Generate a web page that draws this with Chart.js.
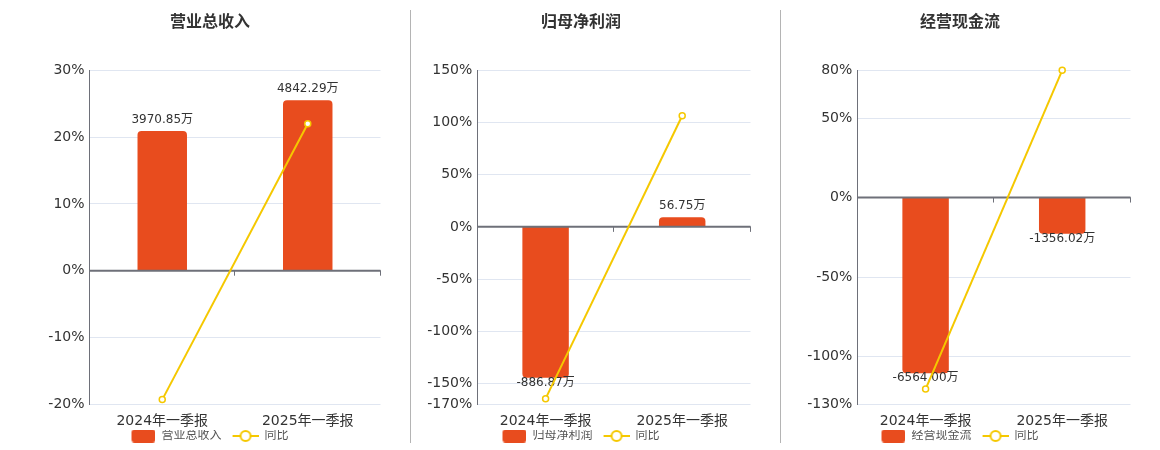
<!DOCTYPE html>
<html>
<head>
<meta charset="utf-8">
<script src="https://cdn.jsdelivr.net/npm/chart.js@4.4.1/dist/chart.umd.min.js"></script>
<style>
    body { margin: 0; background: #fff; width: 1160px; height: 450px; overflow: hidden; position: relative; }
    canvas { position: absolute; top: 0; }
    .sep { position: absolute; top: 10px; width: 1px; height: 433px; background: #b4b4b4; }
</style>
</head>
<body>
<div class="sep" style="left:410px"></div>
<div class="sep" style="left:780px"></div>
<canvas id="revenueChart" width="352" height="452" style="left:34px;width:352px;height:452px"></canvas>
<canvas id="profitChart" width="350" height="452" style="left:406px;width:350px;height:452px"></canvas>
<canvas id="cashChart" width="352" height="452" style="left:784px;width:352px;height:452px"></canvas>

<script>
// Categories shared by all three panels
const categories = ['2024年一季报', '2025年一季报'];

// 营业总收入 (万) and YoY %
const revenueValues = [3970.85, 4842.29];
const revenueYoY = [-19.3, 22.0];
const revenueTicks = [30, 20, 10, 0, -10, -20];

// 归母净利润 (万) and YoY %
const profitValues = [-886.87, 56.75];
const profitYoY = [-164.6, 106.5];
const profitTicks = [150, 100, 50, 0, -50, -100, -150, -170];

// 经营现金流 (万) and YoY %
const cashValues = [-6564.00, -1356.02];
const cashYoY = [-120.4, 80.0];
const cashTicks = [80, 50, 0, -50, -100, -130];

const BAR_COLOR = '#e84c1e';
const LINE_COLOR = '#f5c800';
const BAR_FILL = 0.85; // tallest bar fills this share of its side of the axis
const FONT = '"DejaVu Sans", "Noto Sans CJK SC", sans-serif';

Chart.defaults.font.family = FONT;

/**
 * Small canvases used as legend symbols (left part left blank as item gap)
 */
function makeBarIcon() {
    const c = document.createElement('canvas');
    c.width = 37; c.height = 13;
    const g = c.getContext('2d');
    g.fillStyle = BAR_COLOR;
    g.beginPath();
    g.roundRect(13, 0, 24, 13, 3);
    g.fill();
    return c;
}

function makeLineIcon() {
    const c = document.createElement('canvas');
    c.width = 37; c.height = 14;
    const g = c.getContext('2d');
    g.strokeStyle = LINE_COLOR;
    g.lineWidth = 2;
    g.beginPath();
    g.moveTo(11, 7); g.lineTo(37, 7);
    g.stroke();
    g.fillStyle = '#fff';
    g.beginPath();
    g.arc(24, 7, 5, 0, Math.PI * 2);
    g.fill();
    g.stroke();
    return c;
}

const barIcon = makeBarIcon();
const lineIcon = makeLineIcon();

// Zero axis line, its little ticks, and the bar value labels
const axisAndLabels = {
    id: 'axisAndLabels',
    afterLayout(chart) {
        // pull the legend back so the visible symbols sit centred
        chart.legend.left -= 6.5;
        chart.legend.right -= 6.5;
    },
    afterDatasetDraw(chart, args) {
        if (args.index !== 0) return;
        const { ctx, chartArea, scales } = chart;
        const zeroY = scales.y.getPixelForValue(0);
        ctx.save();
        ctx.strokeStyle = '#6e7079';
        ctx.lineWidth = 2;
        ctx.beginPath();
        ctx.moveTo(chartArea.left, zeroY);
        ctx.lineTo(chartArea.right, zeroY);
        ctx.stroke();

        ctx.lineWidth = 1;
        const mid = (scales.x.getPixelForValue(0) + scales.x.getPixelForValue(1)) / 2;
        [mid, chartArea.right].forEach(x => {
            const px = Math.round(x) - 0.5;
            ctx.beginPath();
            ctx.moveTo(px, zeroY);
            ctx.lineTo(px, zeroY + 5);
            ctx.stroke();
        });

        ctx.font = '12px ' + FONT;
        ctx.fillStyle = '#333';
        ctx.textAlign = 'center';
        ctx.textBaseline = 'middle';
        const values = chart.data.datasets[0].data;
        args.meta.data.forEach((bar, i) => {
            const v = values[i];
            const y = v >= 0 ? bar.y - 11 : bar.y + 5;
            ctx.fillText(v.toFixed(2) + '万', bar.x, y);
        });
        ctx.restore();
    }
};

/**
 * Builds one bar + YoY line panel
 */
function makePanel(canvasId, title, barLabel, values, yoy, ticks, yWidth) {
    const pctMax = ticks[0];
    const pctMin = ticks[ticks.length - 1];

    // Hidden bar axis whose zero lines up with 0% on the visible axis
    const biggest = values.reduce((a, b) => Math.abs(b) > Math.abs(a) ? b : a, 0);
    const side = biggest >= 0 ? pctMax : -pctMin;
    const k = Math.abs(biggest) / (BAR_FILL * side);

    const sortedTicks = [...ticks].sort((a, b) => a - b);

    return new Chart(document.getElementById(canvasId), {
        type: 'bar',
        data: {
            labels: categories,
            datasets: [
                {
                    label: barLabel,
                    data: values,
                    backgroundColor: BAR_COLOR,
                    borderRadius: 4,
                    borderSkipped: 'start',
                    barPercentage: 0.34,
                    categoryPercentage: 1,
                    yAxisID: 'yBar',
                    order: 1
                },
                {
                    label: '同比',
                    data: yoy,
                    type: 'line',
                    borderColor: LINE_COLOR,
                    borderWidth: 2,
                    pointRadius: 3,
                    pointBackgroundColor: '#fff',
                    pointBorderColor: LINE_COLOR,
                    pointBorderWidth: 1.5,
                    tension: 0,
                    clip: false,
                    yAxisID: 'y',
                    order: 0
                }
            ]
        },
        options: {
            responsive: false,
            animation: false,
            devicePixelRatio: 1,
            layout: { padding: 0 },
            plugins: {
                title: {
                    display: true,
                    text: title,
                    color: '#333',
                    font: { size: 16, weight: 'bold' },
                    padding: { top: 12.9, bottom: 38.2 }
                },
                legend: {
                    position: 'bottom',
                    labels: {
                        usePointStyle: true,
                        pointStyleWidth: 37,
                        boxHeight: 12,
                        padding: 0,
                        color: '#555',
                        font: { size: 12 },
                        generateLabels: chart =>
                            Chart.defaults.plugins.legend.labels.generateLabels(chart)
                                .sort((a, b) => a.datasetIndex - b.datasetIndex)
                                .map(item => ({
                                    ...item,
                                    pointStyle: item.datasetIndex === 0 ? barIcon : lineIcon
                                }))
                    }
                },
                tooltip: { enabled: false }
            },
            scales: {
                x: {
                    grid: { display: false, drawTicks: false },
                    border: { display: false },
                    ticks: { color: '#333', font: { size: 14 }, padding: 9 },
                    afterFit: s => { s.height = 25.7; }
                },
                y: {
                    position: 'left',
                    min: pctMin,
                    max: pctMax,
                    afterBuildTicks: s => { s.ticks = sortedTicks.map(v => ({ value: v })); },
                    afterFit: s => { s.width = yWidth; },
                    ticks: {
                        color: '#333',
                        font: { size: 14 },
                        padding: 5,
                        callback: v => v + '%'
                    },
                    grid: {
                        drawTicks: false,
                        color: c => (c.tick && c.tick.value === 0) ? '#6e7079' : '#e0e6f1'
                    },
                    border: { color: '#6e7079', width: 1 }
                },
                yBar: {
                    display: false,
                    min: pctMin * k,
                    max: pctMax * k
                }
            }
        },
        plugins: [axisAndLabels]
    });
}

makePanel('revenueChart', '营业总收入', '营业总收入', revenueValues, revenueYoY, revenueTicks, 55.5);
makePanel('profitChart', '归母净利润', '归母净利润', profitValues, profitYoY, profitTicks, 71.3);
makePanel('cashChart', '经营现金流', '经营现金流', cashValues, cashYoY, cashTicks, 73.3);
</script>
</body>
</html>
